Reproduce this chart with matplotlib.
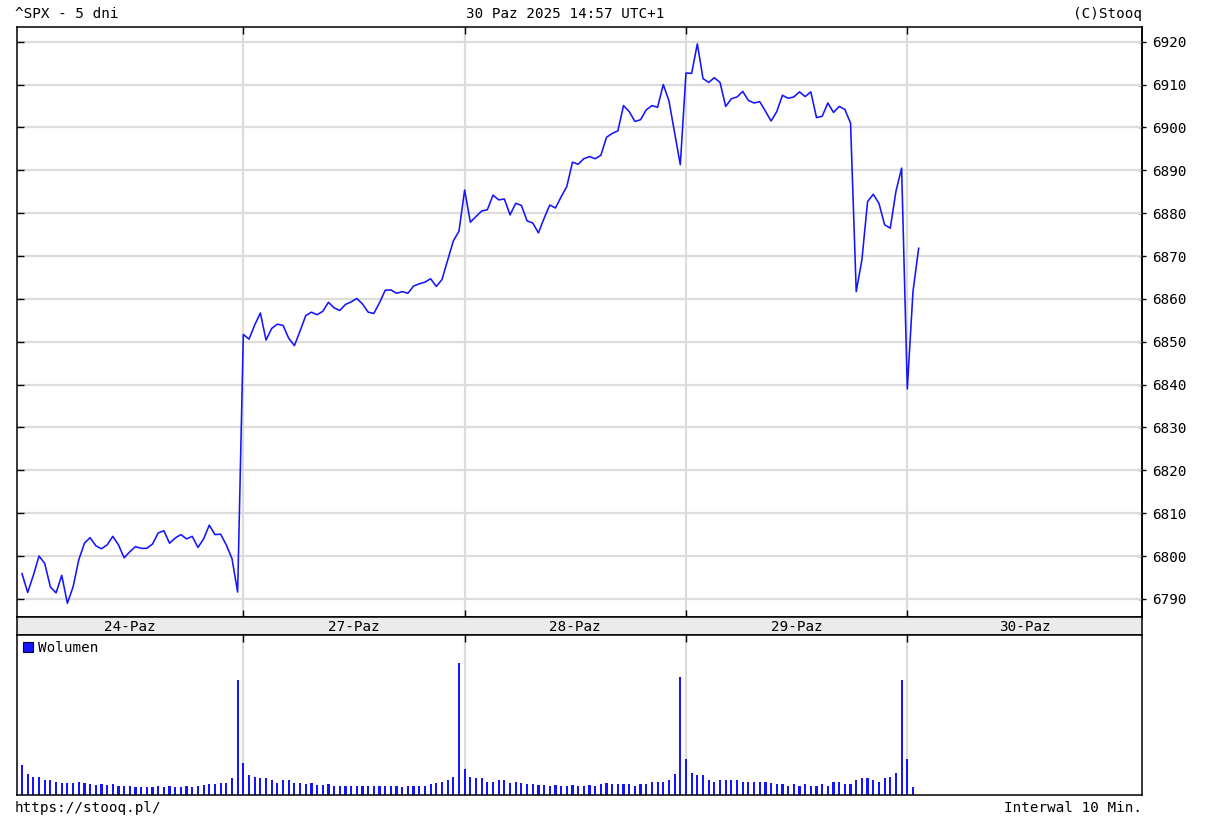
import numpy as np
import matplotlib
matplotlib.use("Agg")
import matplotlib.pyplot as plt
from matplotlib.patches import Patch

# ---------------- data ----------------
day_labels = ["24-Paz", "27-Paz", "28-Paz", "29-Paz", "30-Paz"]
bars_per_day = 39

price_24 = [6795.9, 6791.5, 6795.5, 6800.0, 6798.3, 6792.8, 6791.4, 6795.5, 6789.0, 6792.8,
            6799.1, 6803.0, 6804.3, 6802.4, 6801.7, 6802.6, 6804.6, 6802.6, 6799.6, 6801.0,
            6802.2, 6801.8, 6801.8, 6802.8, 6805.4, 6805.9, 6803.0, 6804.2, 6805.0, 6804.0,
            6804.6, 6802.0, 6804.0, 6807.2, 6805.0, 6805.1, 6802.6, 6799.4, 6791.6]
price_27 = [6851.7, 6850.6, 6853.9, 6856.7, 6850.4, 6853.1, 6854.1, 6853.8, 6850.8, 6849.1,
            6852.5, 6856.1, 6856.9, 6856.3, 6857.1, 6859.2, 6857.9, 6857.3, 6858.7, 6859.3,
            6860.1, 6858.8, 6856.9, 6856.6, 6859.1, 6862.0, 6862.1, 6861.3, 6861.7, 6861.3,
            6863.0, 6863.5, 6863.9, 6864.7, 6862.9, 6864.5, 6869.0, 6873.5, 6875.8]
price_28 = [6885.4, 6877.9, 6879.2, 6880.5, 6880.8, 6884.2, 6883.1, 6883.3, 6879.6, 6882.3,
            6881.8, 6878.2, 6877.7, 6875.4, 6878.8, 6881.9, 6881.2, 6883.8, 6886.2, 6891.9,
            6891.4, 6892.7, 6893.2, 6892.7, 6893.5, 6897.7, 6898.6, 6899.2, 6905.1, 6903.7,
            6901.4, 6901.8, 6904.1, 6905.1, 6904.7, 6910.0, 6906.2, 6898.7, 6891.3]
price_29 = [6912.7, 6912.6, 6919.5, 6911.4, 6910.5, 6911.6, 6910.5, 6904.9, 6906.7, 6907.1,
            6908.4, 6906.3, 6905.7, 6906.0, 6903.8, 6901.5, 6903.7, 6907.5, 6906.8, 6907.1,
            6908.3, 6907.2, 6908.3, 6902.3, 6902.6, 6905.7, 6903.5, 6904.9, 6904.2, 6901.0,
            6861.7, 6869.1, 6882.7, 6884.4, 6882.3, 6877.3, 6876.5, 6885.1, 6890.5]
price_30 = [6839.0, 6861.7, 6871.8]

vol_24 = [30, 21, 18, 18, 15, 15, 13, 12, 12, 12, 13, 12, 11, 10, 11, 10, 11, 9, 9, 9,
          8, 8, 8, 8, 9, 8, 9, 8, 8, 9, 8, 9, 10, 11, 11, 12, 12, 17, 114]
vol_27 = [32, 20, 18, 17, 17, 15, 12, 15, 15, 12, 12, 11, 12, 10, 10, 11, 9, 9, 9, 9,
          9, 9, 9, 9, 9, 9, 9, 9, 8, 9, 9, 9, 9, 11, 12, 13, 15, 18, 130]
vol_28 = [26, 18, 17, 17, 13, 13, 15, 15, 12, 13, 12, 11, 11, 10, 10, 9, 10, 9, 9, 10,
          9, 9, 10, 9, 11, 12, 11, 11, 11, 11, 9, 11, 11, 13, 13, 13, 15, 21, 117]
vol_29 = [36, 22, 20, 20, 15, 13, 15, 15, 15, 15, 13, 13, 13, 13, 13, 12, 11, 11, 9, 11,
          9, 11, 9, 9, 11, 9, 13, 13, 11, 11, 15, 17, 17, 15, 13, 17, 18, 22, 114]
vol_30 = [36, 8]

y_ticks = list(range(6790, 6921, 10))

price = price_24 + price_27 + price_28 + price_29 + price_30
volume = vol_24 + vol_27 + vol_28 + vol_29 + vol_30

# ---------------- layout ----------------
W, H = 1209, 833
fig = plt.figure(figsize=(W / 100, H / 100), dpi=100)
fig.patch.set_facecolor("white")


def rect(l, t, r, b):
    return [l / W, 1 - b / H, (r - l) / W, (b - t) / H]


MONO = "DejaVu Sans Mono"
FS = 10.3
BLUE = "#1414ff"
GRID = "#dcdcdc"
SPW = 1.1

x0_px, dx_px = 22.0, 5.675
xl = (17 - x0_px) / dx_px
xr = (1142 - x0_px) / dx_px
seps = [bars_per_day * k for k in range(1, 5)]

ax = fig.add_axes(rect(17, 27, 1142, 617))
axs = fig.add_axes(rect(17, 617, 1142, 635))
axv = fig.add_axes(rect(17, 635, 1142, 795))

# price panel
xi = np.arange(len(price))
ax.plot(xi, price, color=BLUE, lw=1.15, solid_joinstyle="round")
ax.set_xlim(xl, xr)
ax.set_ylim(6785.78, 6923.43)
ax.set_yticks(y_ticks)
ax.set_xticks(seps)
ax.grid(True, color=GRID, lw=1.6)
ax.set_axisbelow(True)
ax.tick_params(axis="y", left=True, right=False, labelleft=False, direction="in",
               length=5, width=1.0)
ax.tick_params(axis="x", top=True, bottom=True, labelbottom=False, direction="in",
               length=5, width=1.0)
for s in ax.spines.values():
    s.set_linewidth(SPW)
sec = ax.secondary_yaxis("right")
sec.set_yticks(y_ticks)
sec.tick_params(direction="inout", length=6, width=1.0, pad=4, labelsize=FS)
for lab in sec.get_yticklabels():
    lab.set_family(MONO)
sec.spines["right"].set_linewidth(SPW)

# date strip
axs.set_facecolor("#ebebeb")
axs.set_xlim(xl, xr)
axs.set_ylim(0, 1)
axs.set_xticks([])
axs.set_yticks([])
for s in axs.spines.values():
    s.set_linewidth(SPW)
bounds = [xl] + seps + [xr]
for k, lab in enumerate(day_labels):
    axs.text((bounds[k] + bounds[k + 1]) / 2, 0.45, lab, ha="center", va="center",
             family=MONO, fontsize=FS)

# volume panel
xv = np.arange(len(volume))
axv.bar(xv, volume, width=0.38, color=BLUE, linewidth=0)
axv.set_xlim(xl, xr)
axv.set_ylim(0, 158)
axv.set_yticks([])
axv.set_xticks(seps)
axv.grid(True, axis="x", color=GRID, lw=1.6)
axv.set_axisbelow(True)
axv.tick_params(axis="x", top=True, bottom=False, labelbottom=False, direction="in",
                length=5, width=1.0)
for s in axv.spines.values():
    s.set_linewidth(SPW)
leg = axv.legend(handles=[Patch(facecolor=BLUE, edgecolor="#000033", lw=0.8,
                                label="Wolumen")],
                 loc="upper left", frameon=False, prop={"family": MONO, "size": FS},
                 handlelength=0.7, handleheight=0.7, handletextpad=0.4,
                 borderaxespad=0.2, borderpad=0.2)

# header / footer
fig.text(15 / W, 1 - 14 / H, "^SPX - 5 dni", ha="left", va="center", family=MONO, fontsize=FS)
fig.text(565 / W, 1 - 14 / H, "30 Paz 2025 14:57 UTC+1", ha="center", va="center",
         family=MONO, fontsize=FS)
fig.text(1142 / W, 1 - 14 / H, "(C)Stooq", ha="right", va="center", family=MONO, fontsize=FS)
fig.text(15 / W, 1 - 808 / H, "https://stooq.pl/", ha="left", va="center", family=MONO,
         fontsize=FS)
fig.text(1142 / W, 1 - 808 / H, "Interwal 10 Min.", ha="right", va="center", family=MONO,
         fontsize=FS)

fig.savefig("out.png", dpi=100)
